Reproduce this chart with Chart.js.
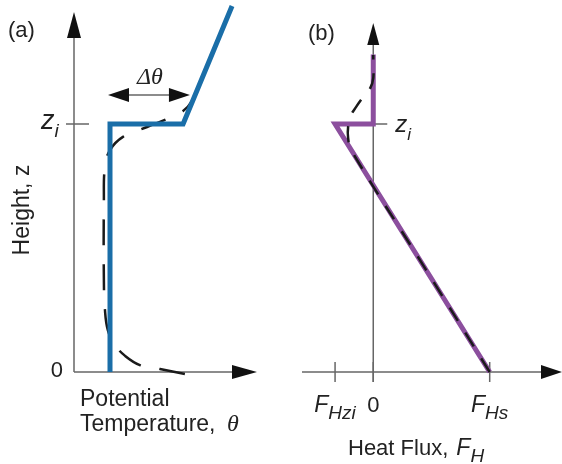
<!DOCTYPE html>
<html>
<head>
<meta charset="utf-8">
<script src="https://cdn.jsdelivr.net/npm/chart.js@4.4.0/dist/chart.umd.min.js"></script>
<style>
body { margin: 0; background: #fff; }
#wrap { position: relative; width: 562px; height: 464px; }
canvas { position: absolute; top: 0; }
</style>
</head>
<body>
<div id="wrap">
  <canvas id="chartA" width="281" height="464" style="left:0"></canvas>
  <canvas id="chartB" width="281" height="464" style="left:281px"></canvas>
</div>
<script>
// (a) potential temperature, height in units of z_i
const thetaModel = [1, 1, 3.03, 4.39];
const zModel = [0, 1, 1, 1.476];
const thetaReal = [3.08, 2.39, 1.83, 1.42, 1.14, 0.94, 0.86, 0.83, 0.83, 0.86, 1.0, 1.36, 2.03, 2.64, 3.03, 3.28, 3.5];
const zReal = [-0.008, 0.012, 0.028, 0.065, 0.109, 0.169, 0.25, 0.37, 0.69, 0.83, 0.895, 0.948, 0.988, 1.024, 1.052, 1.093, 1.17];

// (b) heat flux (F_Hs = 1)
const fluxModel = [1, -0.328, 0, 0];
const zFluxModel = [0, 1, 1, 1.28];
const fluxReal = [1, 0.4, -0.19, -0.216, -0.216, -0.19, -0.147, -0.086, -0.026, 0, 0];
const zFluxReal = [0, 0.452, 0.895, 0.944, 0.988, 1.036, 1.069, 1.109, 1.145, 1.185, 1.278];

const fluxTickValues = [-0.328, 0, 1];
const fluxTickMain = ['F', '0', 'F'];
const fluxTickSub = ['Hzi', '', 'Hs'];
const deltaTheta = [0.944, 3.22];   // extent of the Δθ arrow
const deltaThetaZ = 1.117;

const toXY = (xs, ys) => xs.map((x, i) => ({ x: x, y: ys[i] }));

const SANS = '"Liberation Sans", Arial, sans-serif';
const SERIF = '"Liberation Serif", "Times New Roman", serif';
const BLUE = '#1a6ea8';
const PURPLE = '#8c4f9e';
const AXIS = '#666';

function arrowHead(ctx, x, y, dir, len, half) {
    ctx.save();
    ctx.fillStyle = '#111';
    ctx.beginPath();
    ctx.moveTo(x, y);
    if (dir === 'up') { ctx.lineTo(x - half, y + len); ctx.lineTo(x + half, y + len); }
    if (dir === 'right') { ctx.lineTo(x - len, y - half); ctx.lineTo(x - len, y + half); }
    if (dir === 'left') { ctx.lineTo(x + len, y - half); ctx.lineTo(x + len, y + half); }
    ctx.closePath();
    ctx.fill();
    ctx.restore();
}

function line(ctx, x1, y1, x2, y2) {
    ctx.beginPath();
    ctx.moveTo(x1, y1);
    ctx.lineTo(x2, y2);
    ctx.stroke();
}

// main letter with a subscript
function subText(ctx, x, y, main, sub, mainFont, subFont, align, drop) {
    ctx.font = mainFont;
    const w1 = ctx.measureText(main).width;
    ctx.font = subFont;
    const w2 = sub ? ctx.measureText(sub).width : 0;
    let x0 = x;
    if (align === 'center') x0 = x - (w1 + w2) / 2;
    ctx.textAlign = 'left';
    ctx.textBaseline = 'alphabetic';
    ctx.font = mainFont;
    ctx.fillText(main, x0, y);
    if (sub) {
        ctx.font = subFont;
        ctx.fillText(sub, x0 + w1, y + (drop || 7));
    }
}

const axesA = {
    id: 'axesA',
    beforeDatasetsDraw(chart) {
        const ctx = chart.ctx;
        const xs = chart.scales.x, ys = chart.scales.y;
        const x0 = xs.getPixelForValue(0), y0 = ys.getPixelForValue(0);
        const topY = ys.getPixelForValue(1.452);
        ctx.save();
        ctx.strokeStyle = AXIS;
        ctx.lineWidth = 1.5;
        line(ctx, x0, y0, x0, topY + 20);
        line(ctx, x0, y0, chart.chartArea.right - 20, y0);
        const zi = ys.getPixelForValue(1);
        line(ctx, x0 - 8, zi, x0 + 15, zi);
        // Δθ arrow
        const dy = ys.getPixelForValue(deltaThetaZ);
        const dl = xs.getPixelForValue(deltaTheta[0]), dr = xs.getPixelForValue(deltaTheta[1]);
        line(ctx, dl + 15, dy, dr - 15, dy);
        arrowHead(ctx, dl, dy, 'left', 21, 7);
        arrowHead(ctx, dr, dy, 'right', 21, 7);
        arrowHead(ctx, x0, topY, 'up', 26, 7);
        arrowHead(ctx, chart.chartArea.right, y0, 'right', 25, 7);

        ctx.fillStyle = '#222';
        ctx.font = '22px ' + SANS;
        ctx.textAlign = 'left';
        ctx.textBaseline = 'middle';
        ctx.fillText('(a)', 8, 31);
        ctx.textAlign = 'right';
        ctx.fillText('0', x0 - 11, y0 - 1);
        subText(ctx, 41, zi + 5, 'z', 'i', 'italic 27px ' + SANS, 'italic 19px ' + SANS, 'left', 8);

        ctx.font = 'italic 24px ' + SERIF;
        ctx.textAlign = 'center';
        ctx.textBaseline = 'alphabetic';
        ctx.fillText('\u0394\u03b8', (dl + dr) / 2 + 1, dy - 11);

        ctx.font = '23px ' + SANS;
        ctx.textAlign = 'left';
        ctx.fillText('Potential', 80, 406);
        ctx.fillText('Temperature,', 80, 431);
        ctx.font = 'italic 24px ' + SERIF;
        ctx.fillText('\u03b8', 227, 431);

        ctx.translate(29, 210);
        ctx.rotate(-Math.PI / 2);
        ctx.font = '23px ' + SANS;
        ctx.textAlign = 'center';
        ctx.fillText('Height, z', 0, 0);
        ctx.restore();
    }
};

const axesB = {
    id: 'axesB',
    beforeDatasetsDraw(chart) {
        const ctx = chart.ctx;
        const xs = chart.scales.x, ys = chart.scales.y;
        const x0 = xs.getPixelForValue(0), y0 = ys.getPixelForValue(0);
        const topY = ys.getPixelForValue(1.407);
        ctx.save();
        ctx.strokeStyle = AXIS;
        ctx.lineWidth = 1.5;
        line(ctx, x0, y0 + 10, x0, topY + 18);
        line(ctx, chart.chartArea.left, y0, chart.chartArea.right - 18, y0);
        fluxTickValues.forEach(v => {
            const px = xs.getPixelForValue(v);
            line(ctx, px, y0 - 10, px, y0 + 10);
        });
        const zi = ys.getPixelForValue(1);
        line(ctx, x0 - 11, zi, x0 + 14, zi);
        arrowHead(ctx, x0, topY, 'up', 22, 6);
        arrowHead(ctx, chart.chartArea.right, y0, 'right', 21, 7);

        ctx.fillStyle = '#222';
        ctx.font = '22px ' + SANS;
        ctx.textAlign = 'left';
        ctx.textBaseline = 'middle';
        ctx.fillText('(b)', 27, 34);
        fluxTickValues.forEach((v, i) => {
            const px = xs.getPixelForValue(v);
            const mainFont = fluxTickSub[i] ? 'italic 23px ' + SANS : '22px ' + SANS;
            subText(ctx, px, 412, fluxTickMain[i], fluxTickSub[i], mainFont, 'italic 19px ' + SANS, 'center', 7);
        });
        subText(ctx, x0 + 22, zi + 8, 'z', 'i', 'italic 24px ' + SANS, 'italic 17px ' + SANS, 'left', 8);

        ctx.font = '22px ' + SANS;
        ctx.textAlign = 'left';
        ctx.textBaseline = 'alphabetic';
        const hw = ctx.measureText('Heat Flux, ').width;
        ctx.fillText('Heat Flux, ', 67, 455);
        subText(ctx, 67 + hw + 2, 455, 'F', 'H', 'italic 23px ' + SANS, 'italic 19px ' + SANS, 'left', 7);
        ctx.restore();
    }
};

function baseOptions(xmin, xmax, pad) {
    return {
        responsive: false,
        animation: false,
        devicePixelRatio: 1,
        events: [],
        layout: { padding: pad },
        plugins: { legend: { display: false }, tooltip: { enabled: false } },
        scales: {
            x: { type: 'linear', min: xmin, max: xmax, display: false },
            y: { type: 'linear', min: 0, max: 1.5, display: false }
        }
    };
}

// Chart.js draws dataset 0 on top
new Chart(document.getElementById('chartA').getContext('2d'), {
    type: 'scatter',
    data: {
        datasets: [{
            data: toXY(thetaModel, zModel),
            showLine: true, borderColor: BLUE, borderWidth: 5,
            pointRadius: 0, tension: 0, clip: false,
            borderJoinStyle: 'miter'
        }, {
            data: toXY(thetaReal, zReal),
            showLine: true, borderColor: '#1a1a1a', borderWidth: 2.5,
            borderDash: [26, 19], pointRadius: 0, tension: 0.4, clip: false
        }]
    },
    options: baseOptions(0, 5.083, { left: 74, right: 24, top: 0, bottom: 92 }),
    plugins: [axesA]
});

new Chart(document.getElementById('chartB').getContext('2d'), {
    type: 'scatter',
    data: {
        datasets: [{
            data: toXY(fluxReal, zFluxReal),
            showLine: true, borderColor: '#1a1a1a', borderWidth: 2.5,
            borderDash: [16, 14], pointRadius: 0, tension: 0.4, clip: false
        }, {
            data: toXY(fluxModel, zFluxModel),
            showLine: true, borderColor: PURPLE, borderWidth: 5,
            pointRadius: 0, tension: 0, clip: false,
            borderJoinStyle: 'miter'
        }]
    },
    options: baseOptions(-0.612, 1.621, { left: 21, right: 0, top: 0, bottom: 92 }),
    plugins: [axesB]
});
</script>
</body>
</html>
